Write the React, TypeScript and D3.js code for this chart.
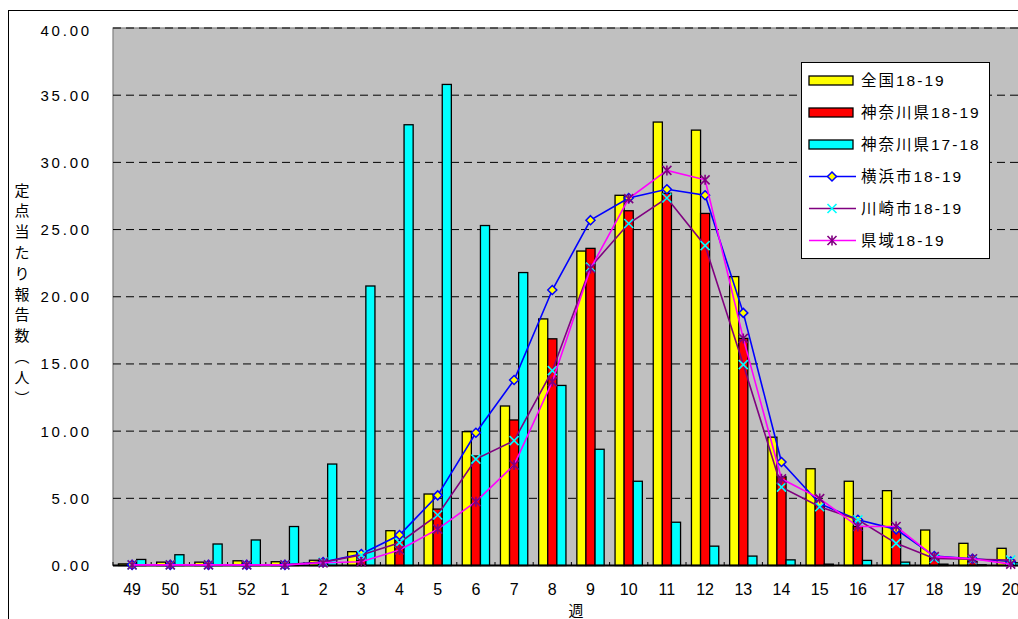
import React from "react";
import * as d3 from "d3";

const categories = ["49","50","51","52","1","2","3","4","5","6","7","8","9","10","11","12","13","14","15","16","17","18","19","20"];
const national1819 = [0.12,0.25,0.25,0.35,0.28,0.39,1.03,2.59,5.32,9.96,11.87,18.35,23.4,27.55,33.0,32.4,21.5,9.55,7.2,6.27,5.57,2.64,1.65,1.28];
const kanagawa1819 = [0.05,0.05,0.05,0.1,0.1,0.2,0.4,1.85,4.2,8.15,10.83,16.87,23.6,26.4,27.7,26.2,16.9,6.6,4.66,2.9,2.77,0.5,0.3,0.2];
const kanagawa1718 = [0.45,0.8,1.6,1.9,2.9,7.55,20.8,32.8,35.8,25.3,21.8,13.4,8.65,6.27,3.22,1.44,0.7,0.42,0.1,0.38,0.25,0.1,0.05,0.2];
const yokohama1819 = [0.05,0.05,0.05,0.05,0.05,0.25,0.86,2.27,5.22,9.88,13.8,20.5,25.7,27.35,28.0,27.55,18.8,7.7,4.6,3.4,2.69,0.7,0.5,0.3];
const kawasaki1819 = [0.05,0.05,0.05,0.05,0.05,0.25,0.78,1.7,3.76,7.92,9.29,14.5,22.2,25.45,27.35,23.8,14.95,5.83,4.37,3.4,1.65,0.53,0.46,0.41];
const kenki1819 = [0.05,0.05,0.05,0.05,0.05,0.2,0.28,1.15,2.71,4.75,7.48,13.68,22.1,27.3,29.4,28.7,16.9,6.45,4.98,2.9,2.9,0.66,0.5,0.1];
const yTicks = [0,5,10,15,20,25,30,35,40];
const barSeriesNames = ["全国18-19","神奈川県18-19","神奈川県17-18"];
const lineSeriesNames = ["横浜市18-19","川崎市18-19","県域18-19"];
const yTitle = ["定","点","当","た","り","報","告","数","︵","人","︶"];
const xTitle = "週";

const barSeries = [
  { name: barSeriesNames[0], values: national1819, color: "#FFFF00" },
  { name: barSeriesNames[1], values: kanagawa1819, color: "#FF0000" },
  { name: barSeriesNames[2], values: kanagawa1718, color: "#00FFFF" },
];
const lineSeries = [
  { name: lineSeriesNames[0], values: yokohama1819, color: "#0000FF", marker: "diamond" },
  { name: lineSeriesNames[1], values: kawasaki1819, color: "#800080", marker: "x" },
  { name: lineSeriesNames[2], values: kenki1819, color: "#FF00FF", marker: "star" },
];

const NUM_FONT = "'Liberation Sans', Arial, 'Noto Sans CJK JP', sans-serif";
const JP_FONT = "'Liberation Sans', 'Noto Sans CJK JP', sans-serif";

function Marker({ type, x, y }: { type: string; x: number; y: number }) {
  if (type === "diamond") {
    const r = 4.5;
    return (
      <path d={`M${x},${y - r}L${x + r},${y}L${x},${y + r}L${x - r},${y}Z`} fill="#FFFF00" stroke="#0000FF" strokeWidth={1.5} />
    );
  }
  if (type === "x") {
    const r = 4.5;
    return (
      <path d={`M${x - r},${y - r}L${x + r},${y + r}M${x - r},${y + r}L${x + r},${y - r}`} stroke="#00FFFF" strokeWidth={1.6} fill="none" />
    );
  }
  const r = 4.5;
  return (
    <path
      d={`M${x - r},${y - r}L${x + r},${y + r}M${x - r},${y + r}L${x + r},${y - r}M${x},${y - r - 0.5}L${x},${y + r + 0.5}`}
      stroke="#800080" strokeWidth={1.6} fill="none" />
  );
}

export default function App() {
  const W = 1018, H = 619;
  const left = 113, step = 38.2;
  const top = 28, bottom = 565.5;
  const x = d3.scaleBand<string>().domain(categories).range([left, left + step * categories.length]).padding(0);
  const y = d3.scaleLinear().domain([0, 40]).range([bottom, top]);
  const groupW = 27.3;
  const xs = d3.scaleBand<number>().domain([0, 1, 2]).range([-groupW / 2, groupW / 2]).padding(0);
  const cx = (c: string) => (x(c) as number) + x.bandwidth() / 2;
  const plotRight = left + step * categories.length;

  const lineGen = d3.line<number>().x((_, i) => cx(categories[i])).y((v) => y(v));

  const legendX = 801, legendY = 62, legendW = 188, legendH = 196;
  const legendRows = [...barSeries.map((s) => ({ kind: "bar", s })), ...lineSeries.map((s) => ({ kind: "line", s }))];

  return (
    <svg width={W} height={H} style={{ position: "absolute", left: 0, top: 0, background: "#fff" }}>
      <rect x={8.5} y={10.5} width={1100} height={700} fill="#fff" stroke="#000" strokeWidth={1} />
      <rect x={left} y={top} width={plotRight - left} height={bottom - top} fill="#C0C0C0" stroke="#808080" strokeWidth={1.2} />
      {yTicks.filter((t) => t > 0).map((t) => (
        <line key={t} x1={left} x2={plotRight} y1={y(t)} y2={y(t)} stroke="#000" strokeWidth={1} strokeDasharray="8,5" />
      ))}
      {yTicks.map((t) => (
        <text key={t} x={92} y={y(t) + (t === 40 ? 8 : 5.5)} textAnchor="end" fontFamily={NUM_FONT} fontSize={15} letterSpacing={2.8} fill="#000">
          {t.toFixed(2)}
        </text>
      ))}
      {yTitle.map((ch, i) => (
        <text key={i} x={22} y={190 + i * 20.8 + 5.5} textAnchor="middle" fontFamily={JP_FONT} fontSize={15} fill="#000">
          {ch}
        </text>
      ))}
      {barSeries.map((s, si) => (
        <g key={s.name}>
          {s.values.map((v, i) => {
            const bx = cx(categories[i]) + (xs(si) as number);
            return (
              <rect key={i} x={bx} y={y(v)} width={xs.bandwidth()} height={bottom - y(v)} fill={s.color} stroke="#000" strokeWidth={1.3} />
            );
          })}
        </g>
      ))}
      <line x1={left} x2={plotRight} y1={bottom} y2={bottom} stroke="#000" strokeWidth={2} />
      {categories.map((c, i) => (
        <line key={"t" + i} x1={x(c) as number} x2={x(c) as number} y1={bottom} y2={bottom - 3.5} stroke="#000" strokeWidth={1} />
      ))}
      {categories.map((c) => (
        <text key={"l" + c} x={cx(c)} y={595} textAnchor="middle" fontFamily={NUM_FONT} fontSize={16} fill="#000">
          {c}
        </text>
      ))}
      <text x={576} y={616} textAnchor="middle" fontFamily={JP_FONT} fontSize={15} fill="#000">{xTitle}</text>
      {lineSeries.map((s) => (
        <g key={s.name}>
          <path d={lineGen(s.values) || ""} fill="none" stroke={s.color} strokeWidth={1.6} />
          {s.values.map((v, i) => (
            <Marker key={i} type={s.marker} x={cx(categories[i])} y={y(v)} />
          ))}
        </g>
      ))}
      <rect x={legendX + 0.5} y={legendY + 0.5} width={legendW} height={legendH} fill="#fff" stroke="#000" strokeWidth={1} />
      {legendRows.map((r, i) => {
        const ry = 80.5 + i * 32;
        return (
          <g key={r.s.name}>
            {r.kind === "bar" ? (
              <rect x={809} y={ry - 4.5} width={44} height={9} fill={r.s.color} stroke="#000" strokeWidth={1.3} />
            ) : (
              <g>
                <line x1={809} x2={856} y1={ry} y2={ry} stroke={r.s.color} strokeWidth={1.6} />
                <Marker type={(r.s as any).marker} x={832} y={ry} />
              </g>
            )}
            <text x={861} y={ry + 5.5} fontFamily={JP_FONT} fontSize={15.5} letterSpacing={2} fill="#000">{r.s.name}</text>
          </g>
        );
      })}
    </svg>
  );
}
